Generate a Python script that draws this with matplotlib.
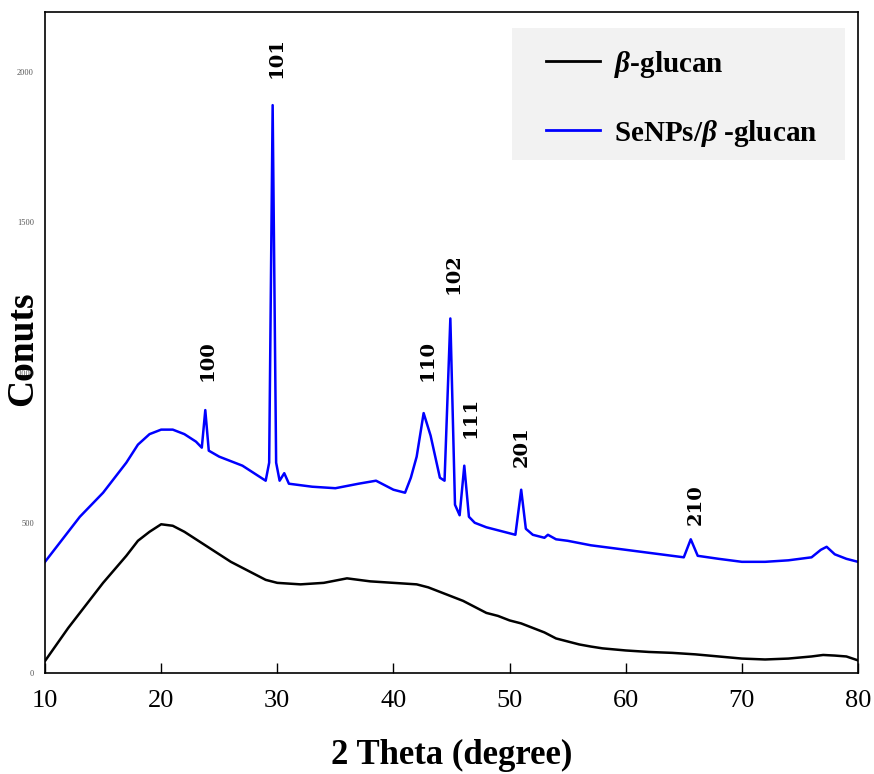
import matplotlib
matplotlib.use('Agg')
import matplotlib.pyplot as plt
from matplotlib.patches import Rectangle

plt.rcParams['font.family'] = ['Liberation Serif', 'DejaVu Serif']
plt.rcParams['mathtext.fontset'] = 'custom'
plt.rcParams['mathtext.rm'] = 'Liberation Serif'
plt.rcParams['mathtext.bf'] = 'Liberation Serif:bold'
plt.rcParams['mathtext.it'] = 'Liberation Serif:italic'
plt.rcParams['mathtext.bfit'] = 'Liberation Serif:bold:italic'

# beta-glucan pattern (2 theta, counts)
glucan_x = [10, 11, 12, 13, 14, 15, 16, 17, 18, 19, 20, 21, 22, 23, 24, 25, 26, 27, 28,
            29, 30, 32, 34, 36, 38, 40, 42, 43, 44, 45, 46, 47, 48, 49, 50, 51, 52, 53,
            54, 55, 56, 57, 58, 60, 62, 64, 66, 68, 70, 72, 74, 76, 77, 78, 79, 80]
glucan_y = [40, 95, 150, 200, 250, 300, 345, 390, 440, 470, 495, 490, 470, 445, 420, 395,
            370, 350, 330, 310, 300, 295, 300, 315, 305, 300, 295, 285, 270, 255, 240, 220,
            200, 190, 175, 165, 150, 135, 115, 105, 95, 88, 82, 75, 70, 67, 62, 55, 48, 45,
            48, 55, 60, 58, 55, 42]

# SeNPs/beta-glucan pattern
senp_x = [10, 11, 12, 13, 14, 15, 16, 17, 18, 19, 20, 21, 22, 23, 23.5, 23.8, 24.1, 25, 26,
          27, 28, 29, 29.3, 29.6, 29.9, 30.2, 30.6, 31, 33, 35, 37, 38.5, 40, 41, 41.5, 42,
          42.6, 43.2, 44, 44.4, 44.9, 45.3, 45.7, 46.1, 46.5, 47, 48, 50, 50.5, 51, 51.4, 52,
          53, 53.3, 54, 55, 57, 60, 63, 65, 65.6, 66.2, 68, 70, 72, 74, 76, 76.8, 77.3, 78,
          79, 80]
senp_y = [370, 420, 470, 520, 560, 600, 650, 700, 760, 795, 810, 810, 795, 770, 750, 875, 740,
          720, 705, 690, 665, 640, 700, 1890, 700, 640, 665, 630, 620, 615, 630, 640, 610, 600,
          650, 720, 865, 790, 650, 640, 1180, 560, 525, 690, 520, 500, 485, 465, 460, 610, 480,
          460, 450, 460, 445, 440, 425, 410, 395, 385, 445, 390, 380, 370, 370, 375, 385, 410,
          420, 395, 380, 370]

# peak labels (hkl) and their positions
peak_labels = ['100', '101', '110', '102', '111', '201', '210']
peak_x = [24.0, 29.9, 42.9, 45.2, 46.6, 51.05, 66.0]
peak_y = [1040, 2050, 1040, 1330, 850, 755, 560]

fig = plt.figure(figsize=(8.74, 7.74), dpi=100)
ax = fig.add_axes([0.0515, 0.1305, 0.9302, 0.854])

ax.plot(glucan_x, glucan_y, color='black', lw=1.8, label=r'$\mathbfit{\beta}$-glucan')
ax.plot(senp_x, senp_y, color='#0000ff', lw=1.8, label=r'SeNPs/$\mathbfit{\beta}$ -glucan')

for lab, px, py in zip(peak_labels, peak_x, peak_y):
    ax.text(px, py, lab, rotation=90, ha='center', va='center',
            fontsize=14, fontweight='bold', family='DejaVu Serif')

ax.set_xlim(10, 80)
ax.set_ylim(0, 2200)
ax.set_xticks(range(10, 81, 10))
ax.set_yticks(range(0, 2001, 500))
ax.tick_params(axis='x', direction='in', length=7, width=1, labelsize=19, pad=12)
ax.tick_params(axis='y', length=0, labelsize=6, labelcolor='#555555', pad=8)
for s in ax.spines.values():
    s.set_linewidth(1.2)

ax.set_xlabel('2 Theta (degree)', fontsize=25, fontweight='bold', va='baseline')
ax.xaxis.set_label_coords(0.5, -0.138)
ax.set_ylabel('Conuts', fontsize=27, fontweight='bold', va='center')
ax.yaxis.set_label_coords(-0.028, 0.49)

# grey legend panel
ax.add_patch(Rectangle((0.5744, 0.776), 0.4096, 0.1998, transform=ax.transAxes,
                       facecolor='#f2f2f2', edgecolor='none', zorder=3))
leg = ax.legend(loc='upper left', bbox_to_anchor=(0.616, 0.9445), frameon=False,
                prop={'weight': 'bold', 'size': 21}, handlelength=1.85, labelspacing=1.3,
                borderpad=0, handletextpad=0.5, borderaxespad=0)
leg.set_zorder(4)
for h in leg.get_lines():
    h.set_linewidth(2)

fig.savefig('out.png', dpi=100)
